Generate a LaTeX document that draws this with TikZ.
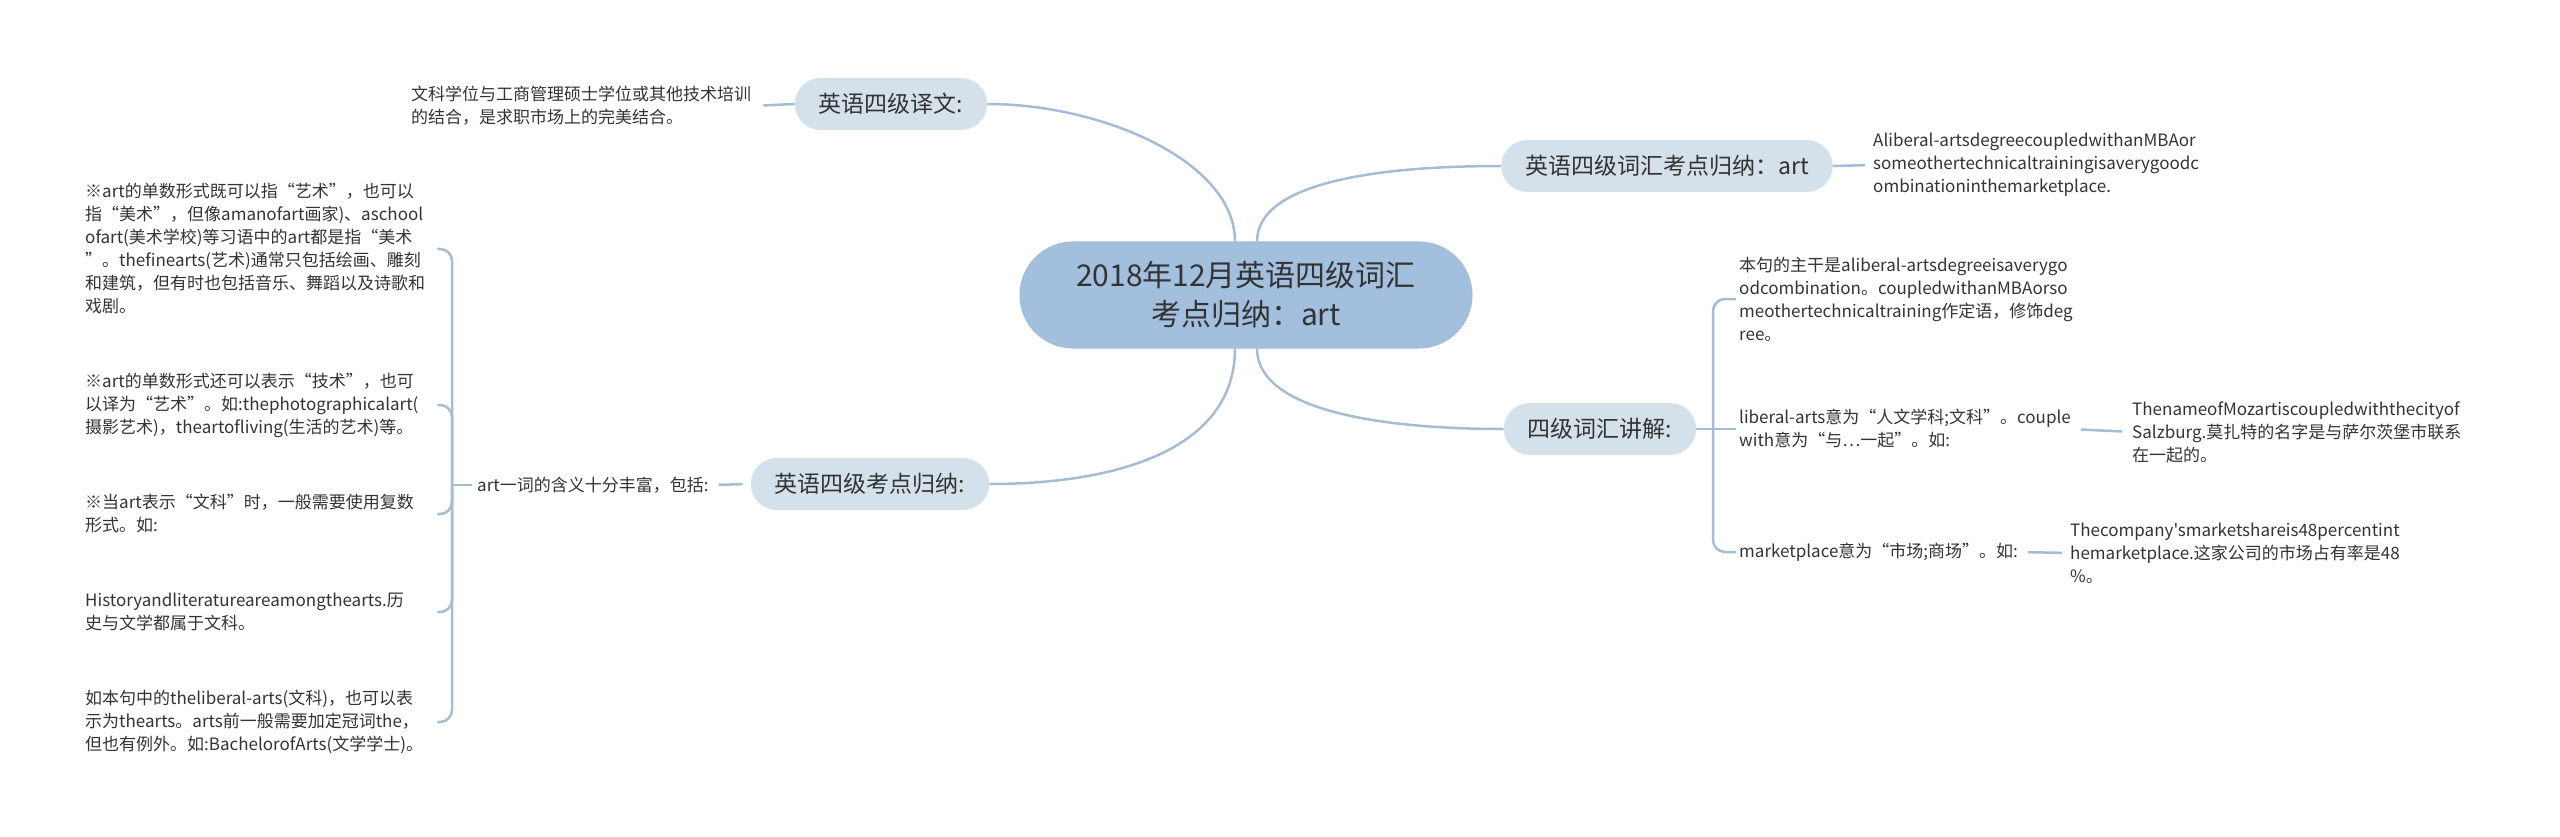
\documentclass[tikz,border=0pt]{standalone}
\usepackage{fontspec}
\setmainfont{Noto Sans CJK SC}[Ligatures=TeXOff]
\definecolor{linkblue}{HTML}{A3BDD4}
\definecolor{rootfill}{HTML}{A2C0DE}
\definecolor{branchfill}{HTML}{D5E1EA}
\definecolor{inktext}{HTML}{333333}
\tikzset{
  root/.style={fill=rootfill, draw=linkblue, line width=1pt, rounded corners=53pt, minimum width=452pt, minimum height=106pt, align=center, text=inktext, font=\fontsize{30}{39}\selectfont},
  branch/.style={fill=branchfill, rounded corners=26pt, minimum height=52pt, inner xsep=24pt, text=inktext, font=\fontsize{23}{27}\selectfont},
  leaf/.style={inner sep=0pt, align=left, text=inktext, font=\fontsize{17}{23}\selectfont},
  link/.style={draw=linkblue, line width=2.5pt},
}
\begin{document}
\begin{tikzpicture}[x=1pt,y=-1pt]
\useasboundingbox (0,0) rectangle (2560,837);
%\draw[help lines] (0,0) grid[step=100] (2560,837);
\node[root] (root) at (1246,295) {2018年12月英语四级词汇\\考点归纳：art};
\node[branch] (yiwen) at (891,104) {英语四级译文:};
\node[branch] (cihui) at (1667,166) {英语四级词汇考点归纳：art};
\node[branch] (jiangjie) at (1600,429) {四级词汇讲解:};
\node[branch] (kaodian) at (870,484) {英语四级考点归纳:};

\draw[link] ([xshift=-11pt]root.north) .. controls +(0,-80) and +(115,0) .. (yiwen.east);
\draw[link] ([xshift=11pt]root.north) .. controls +(0,-60) and +(-120,0) .. (cihui.west);
\draw[link] ([xshift=11pt]root.south) .. controls +(0,60) and +(-130,0) .. (jiangjie.west);
\draw[link] ([xshift=-11pt]root.south) .. controls +(0,100) and +(130,0) .. (kaodian.east);

\node[leaf, anchor=west] (yiwentext) at (411,106) {文科学位与工商管理硕士学位或其他技术培训\\的结合，是求职市场上的完美结合。};
\draw[link, shorten <=12pt] (yiwentext.east) -- (yiwen.west);

\node[leaf, anchor=west] (cihuitext) at (1873,165) {Aliberal-artsdegreecoupledwithanMBAor\\someothertechnicaltrainingisaverygoodc\\ombinationinthemarketplace.};
\draw[link, shorten >=8pt] (cihui.east) -- (cihuitext.west);

\coordinate (jjfork) at (1713,429);
\node[leaf, anchor=west] (zhugan) at (1739,299) {本句的主干是aliberal-artsdegreeisaverygo\\odcombination。coupledwithanMBAorso\\meothertechnicaltraining作定语，修饰deg\\ree。};
\node[leaf, anchor=west] (liberal) at (1739,429) {liberal-arts意为“人文学科;文科”。couple\\with意为“与…一起”。如:};
\node[leaf, anchor=west] (market) at (1739,552) {marketplace意为“市场;商场”。如:};
\node[leaf, anchor=west] (mozart) at (2132,432) {ThenameofMozartiscoupledwiththecityof\\Salzburg.莫扎特的名字是与萨尔茨堡市联系\\在一起的。};
\node[leaf, anchor=west] (company) at (2070,553) {Thecompany'smarketshareis48percentint\\hemarketplace.这家公司的市场占有率是48\\\%。};
\draw[link] (jiangjie.east) -- (jjfork);
\draw[link, rounded corners=12pt, shorten >=3pt] (jjfork) |- (zhugan.west);
\draw[link, shorten >=3pt] (jjfork) -- (liberal.west);
\draw[link, rounded corners=12pt, shorten >=3pt] (jjfork) |- (market.west);
\draw[link, shorten <=10pt, shorten >=10pt] (liberal.east) -- (mozart.west);
\draw[link, shorten <=10pt, shorten >=8pt] (market.east) -- (company.west);

\coordinate (kdfork) at (452,485);
\node[leaf, anchor=west] (hanyi) at (477,485) {art一词的含义十分丰富，包括:};
\draw[link, shorten <=10pt, shorten >=8pt] (hanyi.east) -- (kaodian.west);
\draw[link, shorten <=5pt] (hanyi.west) -- (kdfork);
\node[leaf, anchor=west, text width=352pt] (yishu) at (85,249) {※art的单数形式既可以指“艺术”，也可以\\指“美术”，但像amanofart画家)、aschool\\ofart(美术学校)等习语中的art都是指“美术\\”。thefinearts(艺术)通常只包括绘画、雕刻\\和建筑，但有时也包括音乐、舞蹈以及诗歌和\\戏剧。};
\node[leaf, anchor=west, text width=352pt] (jishu) at (85,405) {※art的单数形式还可以表示“技术”，也可\\以译为“艺术”。如:thephotographicalart(\\摄影艺术)，theartofliving(生活的艺术)等。};
\node[leaf, anchor=west, text width=352pt] (wenke) at (85,514) {※当art表示“文科”时，一般需要使用复数\\形式。如:};
\node[leaf, anchor=west, text width=352pt] (history) at (85,612) {Historyandliteratureareamongthearts.历\\史与文学都属于文科。};
\node[leaf, anchor=west, text width=352pt] (benju) at (85,722) {如本句中的theliberal-arts(文科)，也可以表\\示为thearts。arts前一般需要加定冠词the，\\但也有例外。如:BachelorofArts(文学学士)。};
\foreach \leaf in {yishu,jishu,wenke,history,benju}
  \draw[link, rounded corners=12pt] (kdfork) |- (\leaf.east);
\end{tikzpicture}
\end{document}
